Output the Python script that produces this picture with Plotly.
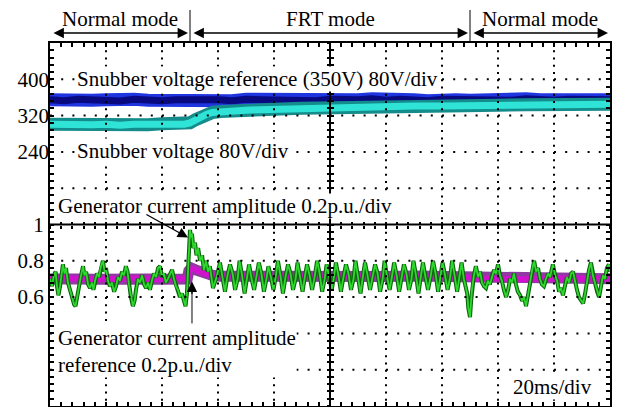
import plotly.graph_objects as go

FONT = "Liberation Serif, Times New Roman, serif"
FS = 21

# ---------------- data ----------------
# time in ms (20 ms/div), voltage in V (80 V/div), current in p.u. (0.2 p.u./div)
ref_v_t = [0, 5, 10, 15, 20, 25, 30, 35, 40, 45, 50, 55, 60, 65, 70, 75, 80, 85, 90, 95,
           100, 105, 110, 115, 120, 125, 130, 135, 140, 145, 150, 155, 160, 165, 170, 175,
           180, 185, 190, 195, 200]
ref_v = [355, 353, 356, 354, 355, 352, 356, 354, 353, 355, 356, 354, 355, 353, 356, 355,
         354, 356, 355, 353, 356, 354, 355, 357, 354, 356, 355, 353, 356, 355, 354, 356,
         355, 354, 357, 355, 354, 356, 355, 354, 355]

snub_t = [0, 5, 10, 15, 20, 25, 30, 35, 40, 45, 48, 50, 52, 54, 56, 58, 61, 65, 70, 75,
          80, 90, 100, 110, 120, 130, 140, 150, 160, 170, 180, 190, 200]
snub_v = [301, 300, 302, 300, 301, 299, 301, 300, 302, 300, 301, 304, 311, 318, 323, 327,
          329, 331, 332, 333, 334, 336, 338, 339, 340, 341, 341, 342, 343, 344, 344, 345, 345]

iref_t = [0, 5, 10, 15, 20, 25, 30, 35, 40, 45, 49, 49.6, 50.5, 52, 54, 56, 58, 61, 65,
          70, 80, 90, 100, 110, 120, 130, 140, 148, 150, 152, 155, 160, 170, 180, 190, 200]
iref = [0.70, 0.705, 0.70, 0.698, 0.702, 0.70, 0.704, 0.70, 0.698, 0.702, 0.70, 0.745,
        0.76, 0.75, 0.735, 0.725, 0.72, 0.715, 0.714, 0.716, 0.715, 0.713, 0.716, 0.715,
        0.714, 0.716, 0.715, 0.713, 0.705, 0.70, 0.702, 0.70, 0.698, 0.702, 0.70, 0.701]

igen_t = [0, 0.7, 1.4, 2.0, 2.5, 3.0, 3.6, 4.1, 4.6, 5.2, 5.7, 6.4, 7.1, 7.9, 8.6, 9.1,
          9.6, 10.4, 11.1, 11.8, 12.3, 12.9, 13.6, 14.3, 15.0, 15.5, 16.1, 16.8, 17.5,
          18.2, 18.9, 19.5, 20.0, 20.7, 21.4, 22.1, 22.9, 23.6, 24.3, 25.0, 25.7, 26.4,
          27.1, 27.7, 28.2, 28.9, 29.6, 30.2, 30.7, 31.4, 32.1, 32.9, 33.6, 34.3, 35.0,
          35.7, 36.4, 37.1, 37.9, 38.6, 39.3, 40.0, 40.7, 41.4, 42.1, 42.9, 43.6, 44.3,
          45.0, 45.7, 46.4, 47.1, 47.9, 48.4, 48.9, 49.5, 50.0, 50.4, 50.7, 51.2, 51.8,
          52.3, 52.9, 53.6, 54.3, 55.0, 55.7, 56.4, 57.1, 58.2, 59.5,
          60.7, 61.6, 62.5, 63.4, 64.3, 65.2, 66.1, 67.0, 67.7, 68.6, 69.5, 70.4,
          71.1, 72.0, 72.9, 73.8, 74.6, 75.5, 76.4, 77.3, 78.0, 78.9, 79.8, 80.7,
          81.4, 82.3, 83.2, 84.1, 85.0, 85.9, 86.8, 87.7, 88.4, 89.3, 90.2, 91.1,
          91.8, 92.7, 93.6, 94.5, 95.4, 96.3, 97.2, 98.1, 98.8, 99.7, 100.6, 101.5,
          102.1, 103.0, 103.9, 104.8, 105.7, 106.6, 107.5, 108.4, 109.1, 110.0, 110.9, 111.8,
          112.5, 113.4, 114.3, 115.2, 116.1, 117.0, 117.9, 118.8, 119.5, 120.4, 121.3, 122.2,
          122.9, 123.8, 124.7, 125.6, 126.4, 127.3, 128.2, 129.1, 129.8, 130.7, 131.6, 132.5,
          133.2, 134.1, 135.0, 135.9, 136.8, 137.7, 138.6, 139.5, 140.2, 141.1, 142.0, 142.9,
          143.6, 144.5, 145.4, 146.3, 147.0, 147.8, 148.4, 149.0, 149.4, 150.0, 150.4,
          150.7, 151.4, 152.1, 152.9, 153.6, 154.3, 155.0, 155.7, 156.4, 157.1, 157.9,
          158.6, 159.3, 160.0, 160.7, 161.4, 162.1, 162.9, 163.6, 164.3, 165.0, 165.7,
          166.4, 167.1, 167.9, 168.6, 169.3, 170.0, 170.7, 171.4, 172.1, 172.9, 173.6,
          174.3, 175.0, 175.7, 176.4, 177.1, 177.9, 178.6, 179.6, 180.4, 181.1, 181.8,
          182.5, 183.2, 183.9, 184.6, 185.4, 186.1, 186.8, 187.5, 188.2, 188.9, 189.6,
          190.4, 191.1, 191.8, 192.5, 193.2, 193.9, 194.6, 195.4, 196.1, 196.8, 197.5,
          198.2, 198.9, 199.6, 200.0]
igen = [0.70, 0.66, 0.72, 0.74, 0.66, 0.61, 0.66, 0.72, 0.78, 0.73, 0.76, 0.68, 0.64, 0.60,
        0.56, 0.55, 0.60, 0.66, 0.72, 0.77, 0.72, 0.74, 0.67, 0.65, 0.68, 0.64, 0.69, 0.73,
        0.71, 0.77, 0.80, 0.74, 0.76, 0.69, 0.66, 0.68, 0.63, 0.66, 0.71, 0.69, 0.74, 0.72,
        0.77, 0.74, 0.67, 0.60, 0.55, 0.58, 0.64, 0.70, 0.68, 0.72, 0.67, 0.65, 0.68, 0.64,
        0.69, 0.73, 0.71, 0.76, 0.77, 0.71, 0.73, 0.68, 0.70, 0.73, 0.75, 0.70, 0.66, 0.64,
        0.60, 0.62, 0.57, 0.55, 0.62, 0.80, 0.97, 0.93, 0.95, 0.87, 0.90, 0.83, 0.87, 0.80,
        0.83, 0.75, 0.80, 0.74, 0.77, 0.65, 0.71,
        0.79, 0.71, 0.63, 0.72, 0.78, 0.73, 0.64, 0.70, 0.80, 0.72, 0.62, 0.71,
        0.78, 0.70, 0.64, 0.72, 0.79, 0.73, 0.63, 0.70, 0.77, 0.71, 0.64, 0.72,
        0.80, 0.72, 0.62, 0.71, 0.78, 0.73, 0.64, 0.70, 0.79, 0.71, 0.63, 0.72,
        0.78, 0.72, 0.64, 0.71, 0.80, 0.73, 0.63, 0.70, 0.78, 0.71, 0.64, 0.72,
        0.79, 0.72, 0.63, 0.71, 0.78, 0.73, 0.64, 0.70, 0.80, 0.71, 0.62, 0.72,
        0.79, 0.72, 0.64, 0.71, 0.78, 0.73, 0.63, 0.70, 0.80, 0.71, 0.64, 0.72,
        0.79, 0.72, 0.63, 0.71, 0.78, 0.73, 0.64, 0.70, 0.80, 0.72, 0.62, 0.72,
        0.79, 0.71, 0.64, 0.71, 0.80, 0.73, 0.63, 0.72, 0.79, 0.72, 0.64, 0.71,
        0.80, 0.72, 0.63, 0.72, 0.79, 0.70, 0.66, 0.62, 0.54, 0.49, 0.58,
        0.64, 0.72, 0.77, 0.71, 0.74, 0.68, 0.66, 0.65, 0.69, 0.67, 0.72,
        0.75, 0.73, 0.78, 0.72, 0.69, 0.64, 0.60, 0.64, 0.70, 0.68, 0.73,
        0.67, 0.63, 0.61, 0.58, 0.60, 0.55, 0.61, 0.68, 0.74, 0.80, 0.74,
        0.76, 0.70, 0.67, 0.66, 0.70, 0.73, 0.71, 0.78, 0.72, 0.69, 0.63,
        0.65, 0.61, 0.66, 0.71, 0.68, 0.73, 0.74, 0.68, 0.64, 0.60, 0.58,
        0.565, 0.62, 0.70, 0.75, 0.79, 0.72, 0.68, 0.63, 0.60, 0.66, 0.72,
        0.70, 0.76, 0.78, 0.74]

mode_bounds = [0, 50, 150, 200]
mode_names = ["Normal mode", "FRT mode", "Normal mode"]
v_ticks = [400, 320, 240]
i_labels = {0.6: "0.6", 0.8: "0.8", 1.0: "1"}

# ---------------- figure ----------------
fig = go.Figure()

def band(x, y, yax, outer, inner, w_out, w_in):
    fig.add_trace(go.Scatter(x=x, y=y, yaxis=yax, mode="lines",
                             line=dict(color=outer, width=w_out),
                             hoverinfo="skip", showlegend=False))
    fig.add_trace(go.Scatter(x=x, y=y, yaxis=yax, mode="lines",
                             line=dict(color=inner, width=w_in),
                             hoverinfo="skip", showlegend=False))

band(iref_t, iref, "y", "#8e3aa0", "#d012cf", 11, 6)
band(igen_t, igen, "y", "#0c650c", "#2fd82f", 4, 1.8)
band(ref_v_t, ref_v, "y2", "#1f35e0", "#0a0a80", 13, 7)
band(snub_t, snub_v, "y2", "#148c8c", "#2fe4d6", 13, 7)

# empty traces so that the crosshair tick axes are created
for xa, ya in [("x2", "y"), ("x3", "y"), ("x", "y3"), ("x", "y4")]:
    fig.add_trace(go.Scatter(x=[None], y=[None], xaxis=xa, yaxis=ya, mode="lines",
                             hoverinfo="skip", showlegend=False))

# frame ticks every 1/5 division on the current axis; labels only at 0.6, 0.8, 1
minor_pos = [round(k * 0.04, 2) for k in range(51)]
frame_text = [i_labels.get(v, "") for v in minor_pos]

tickstyle = dict(tickcolor="black", tickwidth=1.5)

fig.update_layout(
    width=621, height=407,
    margin=dict(l=50, r=11, t=43, b=1, pad=0),
    paper_bgcolor="white", plot_bgcolor="white",
    font=dict(family=FONT, size=FS, color="black"),
    showlegend=False,
    xaxis=dict(range=[0, 200], showgrid=False, tick0=0, dtick=4,
               ticks="inside", ticklen=4,
               showline=True, linecolor="black", linewidth=2, mirror="ticks",
               showticklabels=False, zeroline=False, **tickstyle),
    yaxis=dict(range=[0, 2], tickmode="array", tickvals=minor_pos, ticktext=frame_text,
               showgrid=False, ticks="inside", ticklen=4, showline=True,
               linecolor="black", linewidth=2, mirror="ticks", zeroline=False,
               tickfont=dict(family=FONT, size=FS, color="black"), **tickstyle),
    yaxis2=dict(overlaying="y", side="left", range=[-320, 480], tickmode="array",
                tickvals=v_ticks, showgrid=False, showline=False, zeroline=False,
                ticks="", tickfont=dict(family=FONT, size=FS, color="black")),
    # centre crosshair ticks
    xaxis2=dict(overlaying="x", anchor="free", position=0.5, range=[0, 200], tick0=0,
                dtick=4, ticks="outside", ticklen=3, showticklabels=False, showgrid=False,
                showline=False, zeroline=False, **tickstyle),
    xaxis3=dict(overlaying="x", anchor="free", position=0.5, range=[0, 200], tick0=0,
                dtick=4, ticks="inside", ticklen=3, showticklabels=False, showgrid=False,
                showline=False, zeroline=False, **tickstyle),
    yaxis3=dict(overlaying="y", anchor="free", position=0.5, range=[0, 2], tick0=0,
                dtick=0.04, ticks="outside", ticklen=3, showticklabels=False, showgrid=False,
                showline=False, zeroline=False, **tickstyle),
    yaxis4=dict(overlaying="y", anchor="free", position=0.5, range=[0, 2], tick0=0,
                dtick=0.04, ticks="inside", ticklen=3, showticklabels=False, showgrid=False,
                showline=False, zeroline=False, **tickstyle),
)

# dotted oscilloscope grid (one line per division), drawn above the traces
for k in range(1, 10):
    if k == 5:
        continue
    fig.add_shape(type="line", xref="x", yref="paper", x0=20 * k, x1=20 * k, y0=1, y1=0,
                  line=dict(color="black", width=2, dash="2px,5.26px"))
    fig.add_shape(type="line", xref="paper", yref="y", x0=0, x1=1, y0=0.2 * k, y1=0.2 * k,
                  line=dict(color="black", width=2, dash="2px,9.2px"))

# center crosshair
fig.add_shape(type="line", xref="x", yref="paper", x0=100, x1=100, y0=0, y1=1,
              line=dict(color="black", width=2))
fig.add_shape(type="line", xref="paper", yref="y", x0=0, x1=1, y0=1, y1=1,
              line=dict(color="black", width=2))

# header: mode dividers, arrows, names
for b in mode_bounds[1:-1]:
    fig.add_shape(type="line", xref="x", yref="paper", x0=b, x1=b, y0=1.0, y1=1.091,
                  line=dict(color="black", width=1))
for i, name in enumerate(mode_names):
    a, b = mode_bounds[i], mode_bounds[i + 1]
    fig.add_annotation(x=b, y=1.0275, xref="x", yref="paper", ax=a, ay=0,
                       axref="x", ayref="pixel", text="", showarrow=True,
                       arrowhead=2, startarrowhead=2, arrowside="end+start",
                       arrowsize=1.6, startarrowsize=1.6, arrowwidth=1.3,
                       arrowcolor="black", standoff=2, startstandoff=2)
    fig.add_annotation(x=(a + b) / 2, y=1.066, xref="x", yref="paper", text=name,
                       showarrow=False, font=dict(size=FS), yanchor="middle")

txt = dict(showarrow=False, bgcolor="white", borderpad=0, xanchor="left",
           yanchor="middle", font=dict(size=FS, family=FONT, color="black"))
fig.add_annotation(x=9.4, y=400, xref="x", yref="y2",
                   text="Snubber voltage reference (350V) 80V/div", **txt)
fig.add_annotation(x=9.4, y=242, xref="x", yref="y2",
                   text="Snubber voltage 80V/div", **txt)
fig.add_annotation(x=2.6, y=1.1, xref="x", yref="y",
                   text="Generator current amplitude 0.2p.u./div", **txt)
fig.add_annotation(x=2.6, y=0.30, xref="x", yref="y", align="left",
                   text="Generator current amplitude<br>reference 0.2p.u./div", **txt)
fig.add_annotation(x=165, y=0.107, xref="x", yref="y", text="20ms/div", **txt)

# pointer arrows
fig.add_annotation(x=49.3, y=0.928, xref="x", yref="y", ax=33.9, ay=1.06,
                   axref="x", ayref="y", text="", showarrow=True, arrowhead=2,
                   arrowsize=1.6, arrowwidth=1.3, arrowcolor="black")
fig.add_shape(type="line", xref="x", yref="y", x0=50.7, x1=50.7, y0=0.455, y1=0.66,
              line=dict(color="#808080", width=2))
fig.add_annotation(x=50.7, y=0.686, xref="x", yref="y", ax=0, ay=14,
                   text="", showarrow=True, arrowhead=2, arrowsize=1.6,
                   arrowwidth=1.3, arrowcolor="black")

fig.write_html("out.html")
